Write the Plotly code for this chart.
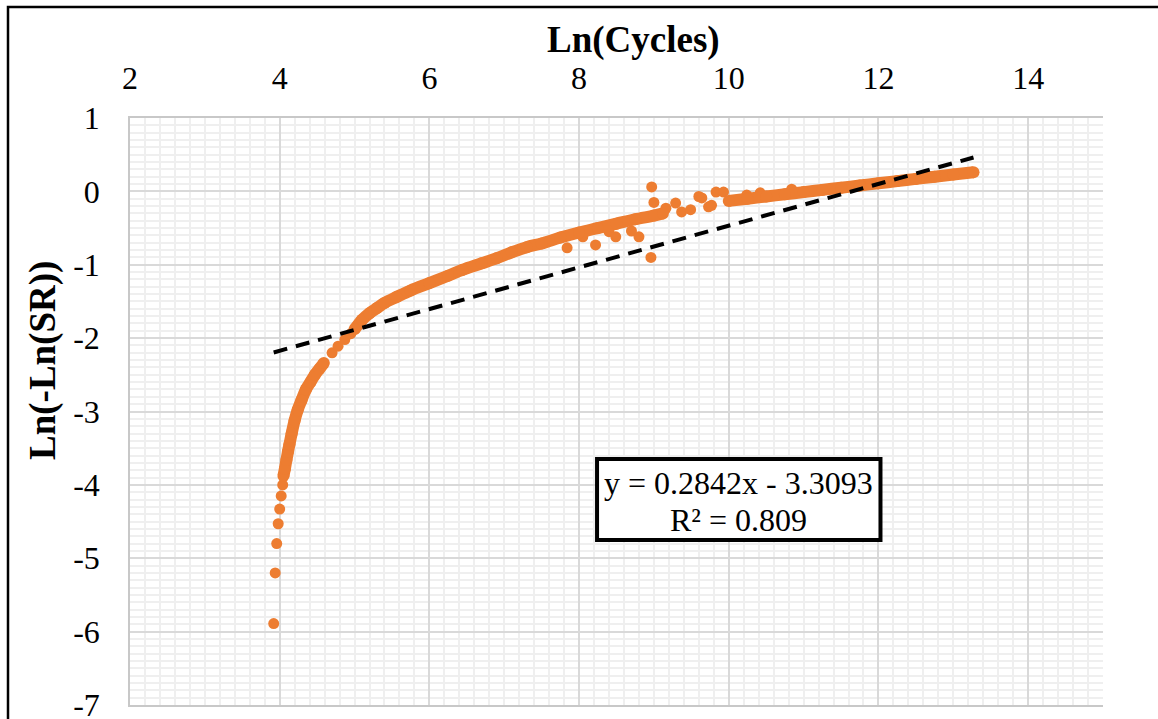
import plotly.graph_objects as go

# ---- data ----
x_low = [3.92, 3.94, 3.96, 3.98, 4.00, 4.02, 4.04]
y_low = [-5.89, -5.20, -4.80, -4.53, -4.33, -4.15, -4.00]

x_band1 = [4.05, 4.07, 4.09, 4.11, 4.13, 4.16, 4.20, 4.24, 4.29, 4.35, 4.41, 4.47, 4.53, 4.59]
y_band1 = [-3.88, -3.78, -3.66, -3.55, -3.45, -3.30, -3.12, -2.98, -2.85, -2.70, -2.60, -2.50, -2.42, -2.34]

x_mid = [4.70, 4.78, 4.87, 4.95]
y_mid = [-2.20, -2.11, -2.02, -1.94]

x_band2 = [5.00, 5.10, 5.20, 5.30, 5.40, 5.56, 5.75, 6.00, 6.25, 6.44, 6.70, 6.90, 7.10,
           7.30, 7.50, 7.75, 8.00, 8.25, 8.50, 8.75, 9.00, 9.12]
y_band2 = [-1.88, -1.75, -1.66, -1.59, -1.52, -1.44, -1.35, -1.25, -1.15, -1.07, -0.98, -0.91, -0.83,
           -0.76, -0.71, -0.63, -0.56, -0.50, -0.44, -0.38, -0.33, -0.30]

x_out = [7.84, 8.05, 8.22, 8.40, 8.49, 8.70, 8.80, 8.96, 8.97, 9.00, 9.16, 9.29, 9.37, 9.49,
         9.60, 9.64, 9.73, 9.77, 9.83, 9.93, 10.24, 10.42, 10.84]
y_out = [-0.77, -0.62, -0.73, -0.55, -0.62, -0.54, -0.62, -0.90, 0.06, -0.15, -0.23, -0.16, -0.28, -0.25,
         -0.07, -0.09, -0.21, -0.19, -0.01, -0.01, -0.05, -0.02, 0.03]

x_band3 = [10.00, 10.25, 10.50, 10.75, 11.00, 11.25, 11.50, 11.75, 12.00, 12.25, 12.50, 12.75, 13.00, 13.27]
y_band3 = [-0.13, -0.10, -0.07, -0.04, -0.01, 0.02, 0.05, 0.08, 0.11, 0.14, 0.17, 0.20, 0.23, 0.26]

slope = 0.2842
intercept = -3.3093
r2 = 0.809

x_ticks = [2, 4, 6, 8, 10, 12, 14]
y_ticks = [1, 0, -1, -2, -3, -4, -5, -6, -7]

ORANGE = "#ED7D31"
FONT = "Liberation Serif"

all_x = x_low + x_band1 + x_mid + x_band2 + x_out + x_band3
xmin, xmax = min(all_x), max(all_x)

fig = go.Figure()

for xs, ys in [(x_low, y_low), (x_mid, y_mid), (x_out, y_out)]:
    fig.add_trace(go.Scatter(x=xs, y=ys, mode="markers",
                             marker=dict(color=ORANGE, size=11), showlegend=False))
for xs, ys in [(x_band1, y_band1), (x_band2, y_band2), (x_band3, y_band3)]:
    fig.add_trace(go.Scatter(x=xs, y=ys, mode="lines+markers",
                             line=dict(color=ORANGE, width=12, shape="spline"),
                             marker=dict(color=ORANGE, size=12), showlegend=False))

# trendline (drawn on top of the points)
fig.add_trace(go.Scatter(
    x=[xmin, xmax], y=[slope * xmin + intercept, slope * xmax + intercept],
    mode="lines", line=dict(color="black", width=4, dash="14px,9px"),
    hoverinfo="skip", showlegend=False))

grid_major = "#d9d9d9"
grid_minor = "#efefef"

fig.update_layout(
    width=1158, height=719,
    margin=dict(l=130, r=55, t=118, b=14, autoexpand=False),
    paper_bgcolor="white", plot_bgcolor="white",
    font=dict(family=FONT, color="black", size=32),
    showlegend=False,
    xaxis=dict(
        side="top", range=[2, 15], tickvals=x_ticks, ticktext=[str(v) for v in x_ticks],
        showgrid=True, gridcolor=grid_major, gridwidth=1.5,
        minor=dict(dtick=0.2, tick0=2, showgrid=True, gridcolor=grid_minor, gridwidth=2),
        zeroline=False, showline=True, mirror=True, linecolor="#c8c8c8", linewidth=1.5,
        ticks="", ticklabelstandoff=14, ticklabeloverflow="allow", automargin=False,
        tickfont=dict(family=FONT, size=32),
    ),
    yaxis=dict(
        range=[-7, 1], tickvals=y_ticks, ticktext=[str(v) for v in y_ticks],
        showgrid=True, gridcolor=grid_major, gridwidth=1.5,
        minor=dict(dtick=0.1, tick0=0, showgrid=True, gridcolor=grid_minor, gridwidth=2),
        zeroline=False, showline=True, linecolor="#c8c8c8", linewidth=1.5,
        ticks="", ticklabelstandoff=22, ticklabeloverflow="allow", automargin=False,
        tickfont=dict(family=FONT, size=32),
    ),
)

# axis titles
fig.add_annotation(xref="paper", yref="paper", x=(633 - 130) / 973, y=1 + (118 - 40) / 587,
                   xanchor="center", yanchor="middle", showarrow=False,
                   text="<b>Ln(Cycles)</b>", font=dict(family=FONT, size=37, color="black"))
fig.add_annotation(xref="paper", yref="paper", x=(43 - 130) / 973, y=1 - (361 - 118) / 587,
                   xanchor="center", yanchor="middle", showarrow=False, textangle=-90,
                   text="<b>Ln(-Ln(SR))</b>", font=dict(family=FONT, size=37, color="black"))

# equation box
fig.add_shape(type="rect", xref="x", yref="y", x0=8.24, x1=12.027, y0=-4.751, y1=-3.647,
              line=dict(color="black", width=4), fillcolor="white", layer="above")
fig.add_annotation(x=10.13, y=-3.974, xref="x", yref="y", showarrow=False,
                   text=f"y = {slope}x - {abs(intercept)}",
                   font=dict(family=FONT, size=32, color="black"))
fig.add_annotation(x=10.13, y=-4.479, xref="x", yref="y", showarrow=False,
                   text=f"R² = {r2}",
                   font=dict(family=FONT, size=32, color="black"))

# outer chart frame
fig.add_shape(type="rect", xref="paper", yref="paper",
              x0=(8 - 130) / 973, x1=(1162 - 130) / 973,
              y0=1 - (724 - 118) / 587, y1=1 - (7 - 118) / 587,
              line=dict(color="black", width=2.5), fillcolor="rgba(0,0,0,0)", layer="above")

fig.write_html("out.html")
